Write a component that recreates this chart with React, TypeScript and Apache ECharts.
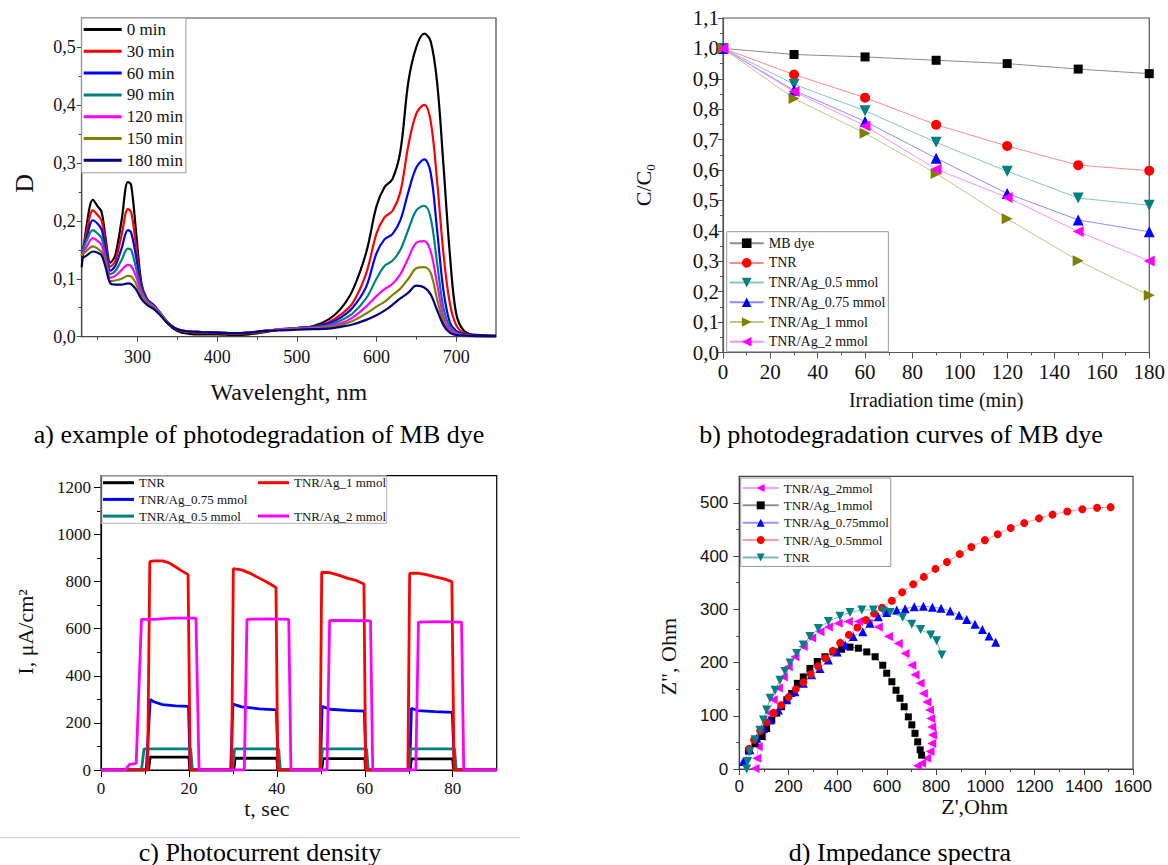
import React, { useEffect, useRef } from "react";
import * as echarts from "echarts";

// ---------------- Panel a: absorption spectra ----------------
const WAVELENGTH = [230, 236, 244, 250, 255, 260, 266, 272, 280, 288, 292, 298, 305, 312, 320, 328, 338, 350, 365, 380, 400, 420, 440, 460, 480, 500, 520, 540, 555, 570, 587, 600, 610, 620, 630, 640, 650, 660, 668, 676, 684, 692, 700, 710, 725, 750];
const D_0_MIN = [0.120, 0.190, 0.236, 0.225, 0.215, 0.170, 0.128, 0.140, 0.200, 0.267, 0.262, 0.185, 0.092, 0.065, 0.055, 0.042, 0.023, 0.010, 0.005, 0.004, 0.004, 0.003, 0.004, 0.008, 0.012, 0.015, 0.018, 0.030, 0.048, 0.080, 0.145, 0.225, 0.258, 0.272, 0.320, 0.440, 0.500, 0.523, 0.510, 0.440, 0.297, 0.144, 0.040, 0.010, 0.003, 0.002];
const D_30_MIN = [0.140, 0.180, 0.218, 0.210, 0.200, 0.160, 0.121, 0.130, 0.175, 0.220, 0.215, 0.160, 0.088, 0.065, 0.055, 0.042, 0.025, 0.012, 0.008, 0.007, 0.006, 0.005, 0.006, 0.009, 0.012, 0.015, 0.017, 0.025, 0.038, 0.058, 0.109, 0.178, 0.206, 0.217, 0.250, 0.330, 0.385, 0.400, 0.372, 0.270, 0.144, 0.058, 0.020, 0.006, 0.002, 0.001];
const D_60_MIN = [0.145, 0.170, 0.201, 0.195, 0.185, 0.150, 0.114, 0.122, 0.152, 0.184, 0.180, 0.140, 0.085, 0.064, 0.054, 0.042, 0.025, 0.013, 0.009, 0.008, 0.007, 0.006, 0.007, 0.010, 0.013, 0.015, 0.017, 0.023, 0.033, 0.050, 0.086, 0.144, 0.168, 0.177, 0.201, 0.250, 0.292, 0.306, 0.283, 0.185, 0.080, 0.025, 0.010, 0.004, 0.002, 0.001];
const D_90_MIN = [0.145, 0.165, 0.184, 0.178, 0.170, 0.140, 0.108, 0.113, 0.132, 0.152, 0.150, 0.120, 0.080, 0.062, 0.053, 0.042, 0.025, 0.013, 0.009, 0.008, 0.007, 0.006, 0.007, 0.010, 0.013, 0.015, 0.016, 0.020, 0.028, 0.040, 0.066, 0.100, 0.122, 0.131, 0.150, 0.185, 0.218, 0.226, 0.205, 0.128, 0.050, 0.017, 0.007, 0.003, 0.001, 0.001];
const D_120_MIN = [0.140, 0.155, 0.170, 0.165, 0.158, 0.132, 0.102, 0.105, 0.115, 0.124, 0.122, 0.105, 0.075, 0.060, 0.052, 0.041, 0.024, 0.013, 0.009, 0.008, 0.007, 0.006, 0.007, 0.010, 0.013, 0.014, 0.015, 0.018, 0.023, 0.033, 0.052, 0.070, 0.082, 0.091, 0.108, 0.136, 0.162, 0.165, 0.147, 0.092, 0.035, 0.012, 0.005, 0.002, 0.001, 0.001];
const D_150_MIN = [0.140, 0.148, 0.156, 0.152, 0.146, 0.125, 0.096, 0.097, 0.100, 0.105, 0.104, 0.092, 0.070, 0.058, 0.050, 0.040, 0.024, 0.013, 0.009, 0.008, 0.007, 0.006, 0.007, 0.010, 0.012, 0.013, 0.014, 0.016, 0.020, 0.027, 0.040, 0.052, 0.060, 0.072, 0.083, 0.100, 0.118, 0.120, 0.110, 0.065, 0.026, 0.008, 0.003, 0.002, 0.001, 0.001];
const D_180_MIN = [0.135, 0.140, 0.147, 0.145, 0.140, 0.120, 0.092, 0.090, 0.090, 0.092, 0.091, 0.082, 0.065, 0.055, 0.048, 0.038, 0.023, 0.013, 0.009, 0.008, 0.007, 0.006, 0.007, 0.010, 0.011, 0.012, 0.013, 0.014, 0.017, 0.021, 0.029, 0.037, 0.045, 0.055, 0.066, 0.076, 0.088, 0.085, 0.073, 0.046, 0.020, 0.007, 0.003, 0.002, 0.001, 0.001];
const A_NAMES = ["0 min", "30 min", "60 min", "90 min", "120 min", "150 min", "180 min"];
const A_COLORS = ["#000000", "#ff0000", "#0000ff", "#008080", "#ff00ff", "#808000", "#000080"];
const A_X_TICKS = [300, 400, 500, 600, 700];
const A_X_MINOR = [250, 350, 450, 550, 650];
const A_Y_TICKS = [0, 0.1, 0.2, 0.3, 0.4, 0.5];
const A_Y_MINOR = [0.05, 0.15, 0.25, 0.35, 0.45];

// ---------------- Panel b: photodegradation curves ----------------
const TIMES = [0, 30, 60, 90, 120, 150, 180];
const C_MB_DYE = [1.0, 0.980, 0.972, 0.961, 0.950, 0.932, 0.917];
const C_TNR = [1.0, 0.914, 0.838, 0.749, 0.679, 0.616, 0.598];
const C_AG_05 = [1.0, 0.882, 0.795, 0.691, 0.596, 0.508, 0.484];
const C_AG_075 = [1.0, 0.862, 0.760, 0.639, 0.523, 0.436, 0.397];
const C_AG_1 = [1.0, 0.835, 0.721, 0.589, 0.440, 0.302, 0.188];
const C_AG_2 = [1.0, 0.858, 0.745, 0.603, 0.510, 0.398, 0.301];
const B_X_TICKS = [0, 20, 40, 60, 80, 100, 120, 140, 160, 180];
const B_X_MINOR = [10, 30, 50, 70, 90, 110, 130, 150, 170];
const B_Y_TICKS = [0, 0.1, 0.2, 0.3, 0.4, 0.5, 0.6, 0.7, 0.8, 0.9, 1.0, 1.1];
const B_Y_MINOR = [0.05, 0.15, 0.25, 0.35, 0.45, 0.55, 0.65, 0.75, 0.85, 0.95, 1.05];

// ---------------- Panel c: photocurrent density [t, I] ----------------
const PC_TNR = [[0, 0], [10.8, 0], [11.2, 55], [20, 55], [20.2, 0], [30.2, 0], [30.5, 50], [40, 50], [40.2, 0], [50.2, 0], [50.5, 48], [60, 48], [60.2, 0], [70.3, 0], [70.6, 47], [80, 47], [80.2, 0], [90, 0]];
const PC_AG_075 = [[0, 0], [10.3, 0], [11.2, 300], [12, 290], [14, 278], [17, 272], [19.9, 270], [20.3, 0], [29.5, 0], [30, 280], [32, 268], [36, 260], [39.9, 255], [40.3, 0], [49.9, 0], [50.3, 270], [52, 258], [56, 253], [59.9, 250], [60.3, 0], [70.2, 0], [70.6, 262], [72, 252], [76, 248], [79.9, 245], [80.4, 0], [90, 0]];
const PC_AG_05 = [[0, 0], [9.2, 0], [9.8, 90], [20.4, 90], [20.8, 0], [29.9, 0], [30.4, 90], [40.4, 90], [40.8, 0], [49.9, 0], [50.4, 90], [60.4, 90], [60.8, 0], [69.9, 0], [70.4, 90], [80.4, 90], [80.8, 0], [90, 0]];
const PC_AG_1 = [[0, 0], [10.6, 0], [11.1, 885], [12, 888], [14, 888], [15.5, 880], [17, 862], [18, 850], [19.8, 830], [20.3, 0], [29.7, 0], [30.1, 855], [32, 850], [34, 835], [36, 815], [38, 795], [39.8, 775], [40.2, 0], [49.8, 0], [50.2, 840], [52, 838], [54, 828], [56, 815], [58, 805], [59.8, 790], [60.2, 0], [69.8, 0], [70.2, 835], [72, 836], [74, 830], [76, 820], [78, 812], [79.8, 800], [80.3, 0], [90, 0]];
const PC_AG_2 = [[0, 0], [5.5, 0], [6.5, 24], [8, 28], [9.2, 640], [12, 640], [16, 645], [21.6, 645], [22.3, 0], [32.6, 0], [33.2, 640], [38, 642], [42.7, 640], [43.2, 0], [51.4, 0], [52, 635], [56, 635], [61.3, 633], [61.8, 0], [71.6, 0], [72.2, 628], [76, 630], [82, 628], [82.5, 0], [90, 0]];
const C_X_TICKS = [0, 20, 40, 60, 80];
const C_X_MINOR = [10, 30, 50, 70];
const C_Y_TICKS = [0, 200, 400, 600, 800, 1000, 1200];
const C_Y_MINOR = [100, 300, 500, 700, 900, 1100];

// ---------------- Panel d: impedance spectra [Z', Z''] ----------------
const Z_AG_2 = [[64, 1], [71, 20], [77, 42], [91, 61], [104, 79], [122, 105], [138, 130], [159, 152], [179, 173], [199, 192], [226, 211], [260, 230], [294, 246], [328, 258], [362, 267], [402, 274], [443, 277], [484, 277], [524, 274], [565, 267], [606, 249], [646, 236], [674, 217], [701, 195], [714, 177], [735, 161], [748, 142], [762, 126], [773, 111], [778, 95], [782, 79], [785, 64], [782, 48], [775, 33], [762, 20], [741, 11], [724, 6]];
const Z_AG_1 = [[37, 34], [64, 48], [91, 61], [111, 76], [132, 92], [152, 105], [172, 117], [193, 130], [213, 142], [236, 161], [260, 173], [287, 189], [317, 202], [348, 211], [382, 220], [416, 225], [450, 229], [484, 227], [518, 220], [552, 211], [583, 195], [599, 180], [620, 164], [637, 148], [653, 133], [670, 117], [687, 98], [701, 83], [714, 67], [725, 51], [735, 36], [741, 26]];
const Z_AG_075 = [[16, 14], [43, 36], [71, 58], [98, 76], [125, 92], [159, 111], [193, 130], [226, 145], [260, 161], [294, 177], [328, 189], [362, 205], [398, 220], [430, 233], [463, 249], [502, 258], [531, 274], [565, 286], [599, 294], [640, 299], [674, 301], [711, 305], [748, 306], [785, 304], [820, 302], [857, 297], [893, 289], [924, 281], [958, 272], [988, 262], [1015, 250], [1042, 238]];
const Z_AG_05 = [[40, 38], [60, 55], [85, 72], [110, 88], [140, 105], [170, 120], [200, 135], [230, 150], [260, 163], [290, 178], [320, 193], [350, 208], [380, 222], [410, 237], [445, 252], [480, 266], [515, 280], [548, 292], [580, 303], [620, 316], [662, 332], [707, 347], [750, 361], [797, 376], [844, 389], [896, 404], [943, 417], [998, 430], [1050, 441], [1103, 453], [1158, 462], [1218, 471], [1273, 478], [1333, 484], [1394, 488], [1454, 491], [1509, 492]];
const Z_TNR = [[30, 0], [34, 14], [43, 33], [64, 55], [84, 73], [98, 92], [111, 111], [125, 133], [145, 148], [165, 167], [186, 183], [206, 199], [233, 217], [260, 233], [287, 249], [321, 264], [362, 277], [409, 287], [450, 294], [498, 299], [545, 299], [586, 297], [613, 294], [664, 285], [701, 272], [737, 262], [778, 252], [802, 241], [823, 214]];
const D_X_TICKS = [0, 200, 400, 600, 800, 1000, 1200, 1400, 1600];
const D_X_MINOR = [100, 300, 500, 700, 900, 1100, 1300, 1500];
const D_Y_TICKS = [0, 100, 200, 300, 400, 500];
const D_Y_MINOR = [50, 150, 250, 350, 450];

// ---------------- Captions ----------------
const CAPTIONS = [
  "a) example of photodegradation of MB dye",
  "b) photodegradation curves of MB dye",
  "c) Photocurrent density",
  "d) Impedance spectra",
];

const SERIF = "Liberation Serif";
const SANS = "Liberation Sans";
const DOWN_TRI = "path://M0,0L10,0L5,9Z";
const RIGHT_TRI = "path://M0,0L9,5L0,10Z";
const LEFT_TRI = "path://M9,0L0,5L9,10Z";

const comma1 = (v: number) => v.toFixed(1).replace(".", ",");
const plain = (step: number) => (v: number) => (Math.abs(v / step - Math.round(v / step)) < 1e-6 ? String(Math.round(v)) : "");
const stripName = (n: string) => n.split("|")[1];

function mainX(grid: number, min: number, max: number, interval: number | undefined, ticks: number[], color: string, tickLen: number, label: any, name: any) {
  return {
    type: "value", gridIndex: grid, min, max, interval, position: "bottom",
    axisLine: { show: true, onZero: false, lineStyle: { color, width: 1.2 } },
    axisTick: { show: true, inside: false, length: tickLen, customValues: ticks, lineStyle: { color, width: 1 } },
    axisLabel: { customValues: ticks, ...label },
    splitLine: { show: false },
    ...name,
  };
}
function mainY(grid: number, min: number, max: number, interval: number | undefined, ticks: number[], color: string, tickLen: number, label: any, name: any) {
  return {
    type: "value", gridIndex: grid, min, max, interval, position: "left",
    axisLine: { show: true, onZero: false, lineStyle: { color, width: 1.2 } },
    axisTick: { show: true, inside: false, length: tickLen, customValues: ticks, lineStyle: { color, width: 1 } },
    axisLabel: { customValues: ticks, ...label },
    splitLine: { show: false },
    ...name,
  };
}
function minorAxis(dim: "x" | "y", grid: number, min: number, max: number, interval: number | undefined, ticks: number[], color: string, len: number, splitNumber?: number) {
  return {
    type: "value", gridIndex: grid, min, max, interval, splitNumber, position: dim === "x" ? "bottom" : "left",
    axisLine: { show: false, onZero: false },
    axisTick: { show: true, inside: false, length: len, customValues: ticks, lineStyle: { color, width: 1 } },
    axisLabel: { show: false },
    splitLine: { show: false },
  };
}

function buildOption() {
  const aSeries = [D_0_MIN, D_30_MIN, D_60_MIN, D_90_MIN, D_120_MIN, D_150_MIN, D_180_MIN].map((arr, k) => ({
    type: "line", name: "a|" + A_NAMES[k], xAxisIndex: 0, yAxisIndex: 0,
    data: WAVELENGTH.map((w, i) => [w, arr[i]]),
    symbol: "none", smooth: 0.35, silent: true,
    lineStyle: { color: A_COLORS[k], width: 2.2 }, itemStyle: { color: A_COLORS[k] },
  }));

  const bDefs = [
    { n: "MB dye", d: C_MB_DYE, sym: "rect", size: 9, c: "#000000", lc: "#8c8c8c" },
    { n: "TNR", d: C_TNR, sym: "circle", size: 10, c: "#ff0000", lc: "#ff8a8a" },
    { n: "TNR/Ag_0.5 mmol", d: C_AG_05, sym: DOWN_TRI, size: 11, c: "#008080", lc: "#88c4c4" },
    { n: "TNR/Ag_0.75 mmol", d: C_AG_075, sym: "triangle", size: 11, c: "#0000ff", lc: "#8c8cff" },
    { n: "TNR/Ag_1 mmol", d: C_AG_1, sym: RIGHT_TRI, size: 11, c: "#808000", lc: "#c4c48a" },
    { n: "TNR/Ag_2 mmol", d: C_AG_2, sym: LEFT_TRI, size: 11, c: "#ff00ff", lc: "#ff8cff" },
  ];
  const bSeries = bDefs.map((s) => ({
    type: "line", name: "b|" + s.n, xAxisIndex: 2, yAxisIndex: 2,
    data: TIMES.map((t, i) => [t, s.d[i]]),
    symbol: s.sym, symbolSize: s.size, showSymbol: true, silent: true,
    lineStyle: { color: s.lc, width: 1 }, itemStyle: { color: s.c },
  }));

  const cDefs = [
    { n: "TNR", d: PC_TNR, c: "#000000" },
    { n: "TNR/Ag_0.75 mmol", d: PC_AG_075, c: "#0000ff" },
    { n: "TNR/Ag_0.5 mmol", d: PC_AG_05, c: "#008080" },
    { n: "TNR/Ag_1 mmol", d: PC_AG_1, c: "#ff0000" },
    { n: "TNR/Ag_2 mmol", d: PC_AG_2, c: "#ff00ff" },
  ];
  const cSeries = cDefs.map((s) => ({
    type: "line", name: "c|" + s.n, xAxisIndex: 4, yAxisIndex: 4, data: s.d,
    symbol: "none", silent: true,
    lineStyle: { color: s.c, width: 2.8 }, itemStyle: { color: s.c },
  }));

  const dDefs = [
    { n: "TNR/Ag_2mmol", d: Z_AG_2, sym: LEFT_TRI, size: 9, c: "#ff00ff", lc: "#ff9cff" },
    { n: "TNR/Ag_1mmol", d: Z_AG_1, sym: "rect", size: 7, c: "#000000", lc: "#909090" },
    { n: "TNR/Ag_0.75mmol", d: Z_AG_075, sym: "triangle", size: 9, c: "#0000ff", lc: "#9494ff" },
    { n: "TNR/Ag_0.5mmol", d: Z_AG_05, sym: "circle", size: 8, c: "#ff0000", lc: "#ff9c9c" },
    { n: "TNR", d: Z_TNR, sym: DOWN_TRI, size: 9, c: "#008080", lc: "#7cb8b8" },
  ];
  const dSeries = dDefs.map((s) => ({
    type: "line", name: "d|" + s.n, xAxisIndex: 6, yAxisIndex: 6, data: s.d,
    symbol: s.sym, symbolSize: s.size, showSymbol: true, silent: true,
    lineStyle: { color: s.lc, width: 1 }, itemStyle: { color: s.c },
  }));

  const txt = "#111";
  const serifLabel = (size: number, margin: number, extra: any = {}) => ({ fontFamily: SERIF, fontSize: size, color: txt, margin, ...extra });
  const sansLabel = (size: number, margin: number, extra: any = {}) => ({ fontFamily: SANS, fontSize: size, color: txt, margin, ...extra });

  const xAxis = [
    mainX(0, 230, 750, undefined, A_X_TICKS, "#444", 5, serifLabel(18, 11, { formatter: plain(100) }),
      { name: "Wavelenght, nm", nameLocation: "middle", nameGap: 43, nameTextStyle: { fontFamily: SERIF, fontSize: 24, color: txt } }),
    minorAxis("x", 0, 230, 750, undefined, A_X_MINOR, "#444", 3, 10),
    mainX(1, 0, 180, 20, B_X_TICKS, "#555", 6, serifLabel(21, 9, { formatter: plain(20) }),
      { name: "Irradiation time (min)", nameLocation: "middle", nameGap: 37, nameTextStyle: { fontFamily: SERIF, fontSize: 20, color: txt } }),
    minorAxis("x", 1, 0, 180, 10, B_X_MINOR, "#555", 3),
    mainX(2, 0, 90, 20, C_X_TICKS, "#000", 7, serifLabel(17, 10, { formatter: plain(20) }),
      { name: "t, sec", nameLocation: "middle", nameGap: 20, nameTextStyle: { fontFamily: SERIF, fontSize: 22, color: txt, padding: [0, 64, 0, 0] } }),
    minorAxis("x", 2, 0, 90, 10, C_X_MINOR, "#000", 4),
    mainX(3, 0, 1600, 200, D_X_TICKS, "#444", 6, sansLabel(17, 9, { formatter: plain(200) }),
      { name: "Z',Ohm", nameLocation: "middle", nameGap: 25, nameTextStyle: { fontFamily: SERIF, fontSize: 22, color: txt, padding: [0, 0, 0, 77] } }),
    minorAxis("x", 3, 0, 1600, 100, D_X_MINOR, "#444", 3),
  ];

  const yAxis = [
    mainY(0, 0, 0.55, 0.1, A_Y_TICKS, "#444", 5,
      serifLabel(18, 6, { formatter: (v: number) => (Math.abs(v * 10 - Math.round(v * 10)) < 1e-6 ? comma1(v) : "") }),
      { name: "D", nameLocation: "middle", nameRotate: 90, nameGap: 44, nameTextStyle: { fontFamily: SERIF, fontSize: 26, color: txt, padding: [0, 12, 0, 0] } }),
    minorAxis("y", 0, 0, 0.55, 0.05, A_Y_MINOR, "#444", 3),
    mainY(1, 0, 1.1, 0.1, B_Y_TICKS, "#555", 5, serifLabel(21, 4, { formatter: comma1 }),
      {
        name: "{m|C/C}{s|0}", nameLocation: "middle", nameRotate: 90, nameGap: 66,
        nameTextStyle: {
          fontFamily: SERIF, fontSize: 22, color: txt,
          rich: { m: { fontFamily: SERIF, fontSize: 22, lineHeight: 28, color: txt }, s: { fontFamily: SERIF, fontSize: 13, lineHeight: 13, verticalAlign: "bottom", color: txt } },
        },
      }),
    minorAxis("y", 1, 0, 1.1, 0.05, B_Y_MINOR, "#555", 3),
    mainY(2, 0, 1250, 200, C_Y_TICKS, "#000", 7, serifLabel(17, 10, { formatter: plain(200) }),
      { name: "I, μA/cm²", nameLocation: "middle", nameRotate: 90, nameGap: 65, nameTextStyle: { fontFamily: SERIF, fontSize: 22, color: txt, padding: [0, 18, 0, 0] } }),
    minorAxis("y", 2, 0, 1250, 100, C_Y_MINOR, "#000", 4),
    mainY(3, 0, 550, 100, D_Y_TICKS, "#444", 6, sansLabel(17, 11, { formatter: plain(100) }),
      { name: 'Z", Ohm', nameLocation: "middle", nameRotate: 90, nameGap: 60, nameTextStyle: { fontFamily: SERIF, fontSize: 22, color: txt, padding: [0, 68, 0, 0] } }),
    minorAxis("y", 3, 0, 550, 50, D_Y_MINOR, "#444", 3),
  ];

  const grid = [
    { left: 81.7, top: 18, width: 414.3, height: 318.7, show: true, borderColor: "#444", borderWidth: 1.2, backgroundColor: "transparent" },
    { left: 723, top: 18, width: 430, height: 334.5, show: true, borderColor: "#555", borderWidth: 1.2, backgroundColor: "transparent" },
    { left: 101, top: 475.7, width: 395.7, height: 294.3, show: true, borderColor: "#000", borderWidth: 1.2, backgroundColor: "transparent" },
    { left: 739.3, top: 476.3, width: 393.7, height: 292.7, show: true, borderColor: "#444", borderWidth: 1.2, backgroundColor: "transparent" },
  ];

  const legendBase = { orient: "vertical", selectedMode: false, formatter: stripName, inactiveColor: "#ccc" };
  const legend = [
    {
      ...legendBase, left: 81.7, top: 18, data: A_NAMES.map((n) => "a|" + n), icon: "rect",
      itemWidth: 38, itemHeight: 3, itemGap: 2.8, padding: [2, 3, 3, 2],
      backgroundColor: "#fff", borderColor: "#999", borderWidth: 1,
      textStyle: { fontFamily: SERIF, fontSize: 17, lineHeight: 19, color: txt },
    },
    {
      ...legendBase, left: 726.7, top: 231.7, data: bDefs.map((s) => "b|" + s.n),
      itemWidth: 34, itemHeight: 12, itemGap: 3.7, padding: [3.5, 3, 2, 2],
      backgroundColor: "#fff", borderColor: "#999", borderWidth: 1,
      textStyle: { fontFamily: SERIF, fontSize: 14, lineHeight: 16, color: txt },
    },
    {
      ...legendBase, left: 101, top: 475.7, data: ["c|TNR", "c|TNR/Ag_0.75 mmol", "c|TNR/Ag_0.5 mmol"], icon: "rect",
      itemWidth: 31, itemHeight: 3, itemGap: 2.7, padding: [0, 2, 0, 2],
      textStyle: { fontFamily: SERIF, fontSize: 13, lineHeight: 14, color: txt },
    },
    {
      ...legendBase, left: 256, top: 475.7, data: ["c|TNR/Ag_1 mmol", "c|TNR/Ag_2 mmol"], icon: "rect",
      itemWidth: 31, itemHeight: 3, itemGap: 19.3, padding: [0, 2, 0, 2],
      textStyle: { fontFamily: SERIF, fontSize: 13, lineHeight: 14, color: txt },
    },
    {
      ...legendBase, left: 740.7, top: 478, data: dDefs.map((s) => "d|" + s.n),
      itemWidth: 36, itemHeight: 10, itemGap: 3.35, padding: [3, 2, 2, 1],
      backgroundColor: "#fff", borderColor: "#999", borderWidth: 1,
      textStyle: { fontFamily: SERIF, fontSize: 13, lineHeight: 14, color: txt },
    },
  ];

  const capStyle = (text: string) => ({ text, fontFamily: SERIF, fontSize: 26, fill: "#000", align: "center", verticalAlign: "middle" });
  const graphic = [
    { type: "line", shape: { x1: 0, y1: 837.7, x2: 520, y2: 837.7 }, style: { stroke: "#c8c8c8", lineWidth: 1 }, silent: true },
    { type: "rect", shape: { x: 101, y: 475.7, width: 285.7, height: 47.6 }, style: { fill: "none", stroke: "#b4b4b4", lineWidth: 1 }, silent: true, z: 5 },
    { type: "text", x: 259, y: 434, style: capStyle(CAPTIONS[0]), silent: true },
    { type: "text", x: 901, y: 434, style: capStyle(CAPTIONS[1]), silent: true },
    { type: "text", x: 260, y: 852, style: capStyle(CAPTIONS[2]), silent: true },
    { type: "text", x: 900, y: 852, style: capStyle(CAPTIONS[3]), silent: true },
  ];

  return {
    animation: false,
    backgroundColor: "#ffffff",
    textStyle: { fontFamily: SERIF },
    grid, xAxis, yAxis, legend, graphic,
    series: [...aSeries, ...bSeries, ...cSeries, ...dSeries],
  };
}

export default function App() {
  const ref = useRef<HTMLDivElement>(null);
  useEffect(() => {
    if (!ref.current) return;
    const chart = echarts.init(ref.current, null, { renderer: "svg" });
    chart.setOption(buildOption() as any);
    return () => chart.dispose();
  }, []);
  return (
    <div
      ref={ref}
      style={{ position: "absolute", left: 0, top: 0, width: 1168, height: 865, background: "#fff" }}
    />
  );
}
